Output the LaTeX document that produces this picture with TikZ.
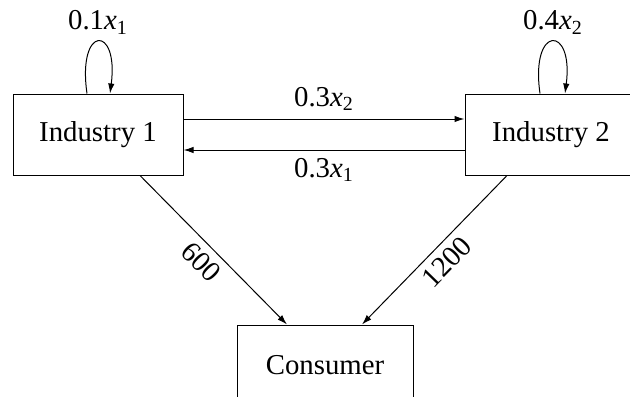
\documentclass[tikz,border=0pt]{standalone}
\usepackage{fontspec}
\setmainfont{Liberation Serif}
\newfontfamily\diagfont{Liberation Serif}
\usetikzlibrary{arrows.meta}
\begin{document}
\begin{tikzpicture}[x=0.5pt,y=-0.5pt,
  box/.style={draw, line width=0.5pt, minimum height=40.5pt, inner sep=0pt},
  conn/.style={line width=0.5pt, -{Latex[length=5pt,width=3.2pt]}},
  lbl/.style={inner sep=1.5pt},
  every node/.style={font=\diagfont\fontsize{14.4}{17}\selectfont}]
\clip (0,0) rectangle (630,396);
\useasboundingbox (0,0) rectangle (630,396);
\node[box, minimum width=85pt] (i1) at (98,134.5) {Industry 1};
\node[box, minimum width=86pt] (i2) at (551,134.5) {Industry 2};
\node[box, minimum width=88pt] (c) at (325,365.5) {Consumer};
% self loops
\draw[conn] ([xshift=-5.5pt]i1.north) .. controls +(-10,-69) and +(9,-69) .. ([xshift=6pt]i1.north);
\draw[conn] ([xshift=-5.5pt]i2.north) .. controls +(-10,-69) and +(9,-69) .. ([xshift=7pt]i2.north);
\node[lbl] (l1) at ([yshift=35.5pt]i1.north) {0.1\textit{x}\textsubscript{1}};
\node[lbl] (l2) at ([yshift=35.5pt,xshift=1pt]i2.north) {0.4\textit{x}\textsubscript{2}};
% horizontal flows
\draw[conn] ([yshift=7.75pt]i1.east) -- node[lbl, above=2.5pt] {0.3\textit{x}\textsubscript{2}} ([yshift=7.75pt]i2.west);
\draw[conn] ([yshift=-7.75pt]i2.west) -- node[lbl, below=2.5pt] {0.3\textit{x}\textsubscript{1}} ([yshift=-7.75pt]i1.east);
% to consumer
\draw[conn] ([xshift=21pt]i1.south) -- node[lbl, pos=0.5, sloped, below=2pt] {600} ([xshift=-19pt]c.north);
\draw[conn] ([xshift=-22pt]i2.south) -- node[lbl, pos=0.5, sloped, below=2pt] {1200} ([xshift=18.5pt]c.north);
\end{tikzpicture}
\end{document}
